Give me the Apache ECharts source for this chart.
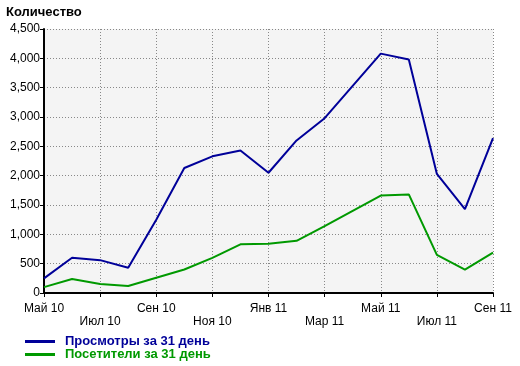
<!DOCTYPE html>
<html><head><meta charset="utf-8">
<script src="https://cdn.jsdelivr.net/npm/echarts@6/dist/echarts.min.js"></script>
<style>html,body{margin:0;padding:0;background:#fff}#c{width:520px;height:366px}</style>
</head><body><div id="c"></div>
<script>
var months = ['Май 10','Июн 10','Июл 10','Авг 10','Сен 10','Окт 10','Ноя 10','Дек 10','Янв 11','Фев 11','Мар 11','Апр 11','Май 11','Июн 11','Июл 11','Авг 11','Сен 11'];
var views = [250,600,560,430,1250,2130,2330,2430,2050,2600,2980,3530,4080,3980,2030,1430,2640];
var visitors = [100,240,155,120,260,400,600,830,840,890,1140,1400,1660,1680,650,400,690];
var yTicks = [0,500,1000,1500,2000,2500,3000,3500,4000,4500];
var seriesNames = ['Просмотры за 31 день','Посетители за 31 день'];
var FONT = '"Liberation Sans", Arial, sans-serif';
var chart = echarts.init(document.getElementById('c'));
chart.setOption({
  animation: false,
  title: {text: 'Количество', left: 1, top: 1, textStyle: {fontFamily: FONT, fontSize: 13, fontWeight: 'bold', color: '#000'}},
  grid: {left: 44, right: 27, top: 29, bottom: 73, show: true, backgroundColor: '#f4f4f4', borderWidth: 0},
  legend: {
    orient: 'vertical', left: 25, top: 335, padding: 0, itemWidth: 30, itemHeight: 3, itemGap: 0, icon: 'rect',
    data: [
      {name: seriesNames[0], textStyle: {color: '#000099'}},
      {name: seriesNames[1], textStyle: {color: '#009900'}}
    ],
    textStyle: {fontFamily: FONT, fontSize: 13, fontWeight: 'bold', lineHeight: 13, padding: [0,0,0,5]}
  },
  xAxis: {
    type: 'category', data: months, boundaryGap: false,
    axisLine: {lineStyle: {color: '#000', width: 2}},
    axisTick: {interval: 1, length: 4, lineStyle: {color: '#000', width: 1}},
    axisLabel: {interval: 1, color: '#000', fontFamily: FONT, fontSize: 12, margin: 9, lineHeight: 13,
      formatter: function (v, i) { return (i % 4 === 2) ? '\n' + v : v; }},
    splitLine: {show: true, interval: 1, lineStyle: {color: '#888', type: [1, 2], width: 1}}
  },
  yAxis: {
    type: 'value', min: yTicks[0], max: yTicks[yTicks.length - 1], interval: 500,
    axisLine: {show: true, lineStyle: {color: '#000', width: 2}},
    axisTick: {show: true, length: 4, lineStyle: {color: '#000', width: 1}},
    axisLabel: {color: '#000', fontFamily: FONT, fontSize: 12, margin: 4,
      formatter: function (v) { return v.toLocaleString('en-US'); }},
    splitLine: {show: true, lineStyle: {color: '#888', type: [1, 2], width: 1}}
  },
  series: [
    {name: seriesNames[0], type: 'line', data: views, symbol: 'none', lineStyle: {color: '#000099', width: 2}, itemStyle: {color: '#000099'}},
    {name: seriesNames[1], type: 'line', data: visitors, symbol: 'none', lineStyle: {color: '#009900', width: 2}, itemStyle: {color: '#009900'}}
  ]
});
</script></body></html>
